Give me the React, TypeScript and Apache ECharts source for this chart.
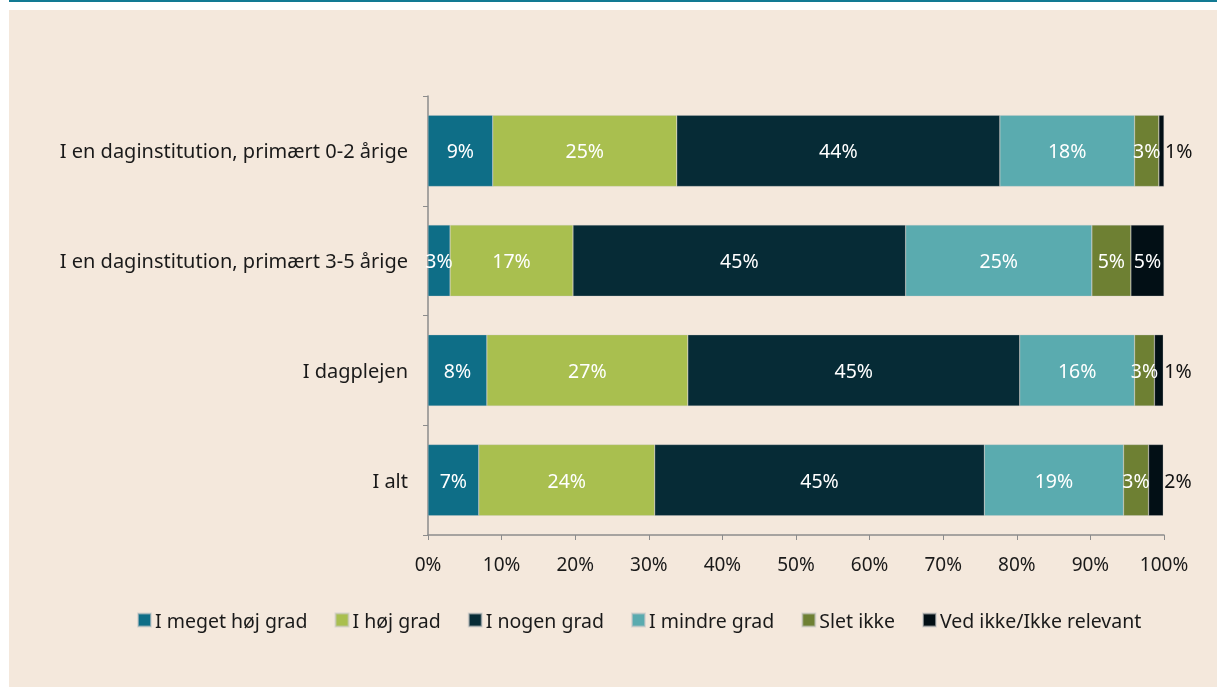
import React, { useEffect, useRef } from "react";
import * as echarts from "echarts";

const categories = [
  "I alt",
  "I dagplejen",
  "I en daginstitution, primært 3-5 årige",
  "I en daginstitution, primært 0-2 årige",
];
const seriesNames = [
  "I meget høj grad",
  "I høj grad",
  "I nogen grad",
  "I mindre grad",
  "Slet ikke",
  "Ved ikke/Ikke relevant",
];
const seriesColors = ["#0E6E87", "#A9BF4F", "#062B36", "#5AABAF", "#6E8033", "#020F15"];
// values per series, in category order (I alt, dagplejen, 3-5, 0-2)
const vMegetHoej = [6.9, 8.0, 3.0, 8.8];
const vHoej = [23.9, 27.3, 16.7, 25.0];
const vNogen = [44.8, 45.1, 45.2, 43.9];
const vMindre = [18.9, 15.6, 25.3, 18.3];
const vSletIkke = [3.4, 2.7, 5.3, 3.3];
const vVedIkke = [2.0, 1.2, 4.5, 0.7];
const seriesValues = [vMegetHoej, vHoej, vNogen, vMindre, vSletIkke, vVedIkke];
// labels outside the bar for the last series (small segments)
const outsideLabel = [true, true, false, true];

const FONT = "'Noto Sans', sans-serif";

export default function App() {
  const ref = useRef<HTMLDivElement>(null);
  useEffect(() => {
    if (!ref.current) return;
    const chart = echarts.init(ref.current, undefined, { renderer: "svg" });
    const series = seriesNames.map((name, si) => ({
      name,
      type: "bar",
      stack: "total",
      barWidth: "65%",
      itemStyle: { color: seriesColors[si], borderColor: "rgba(200,200,200,0.6)", borderWidth: 0.5 },
      data: seriesValues[si].map((v, ci) => {
        const isOut = si === 5 && outsideLabel[ci];
        return {
          value: v,
          label: isOut
            ? { position: "right", color: "#111", distance: 1 }
            : { position: "inside", color: "#fff" },
        };
      }),
      label: {
        show: true,
        fontFamily: FONT,
        fontSize: 19.5,
        formatter: (p: any) => Math.round(p.value) + "%",
      },
    }));
    chart.setOption({
      animation: false,
      backgroundColor: "transparent",
      graphic: [
        { type: "rect", shape: { x: 9, y: 0, width: 1208, height: 2 }, style: { fill: "#127A93" }, z: -10 },
        { type: "rect", shape: { x: 9, y: 10, width: 1208, height: 677 }, style: { fill: "#F4E8DC" }, z: -10 },
      ],
      grid: { left: 428, right: 53, top: 96, bottom: 152 },
      legend: {
        left: 132,
        top: 605,
        itemWidth: 13,
        itemHeight: 13,
        itemGap: 27,
        icon: "rect",
        textStyle: { fontFamily: FONT, fontSize: 19.5, color: "#1a1a1a", padding: [0, 0, 0, -1] },
        data: seriesNames,
      },
      xAxis: {
        type: "value",
        min: 0,
        max: 100,
        interval: 10,
        axisLine: { show: true, lineStyle: { color: "#8c8c8c", width: 1.5 } },
        axisTick: { show: true, length: 5, inside: false, lineStyle: { color: "#8c8c8c" } },
        splitLine: { show: false },
        axisLabel: { fontFamily: FONT, fontSize: 19, color: "#1a1a1a", margin: 19, formatter: "{value}%" },
      },
      yAxis: {
        type: "category",
        data: categories,
        axisLine: { show: true, lineStyle: { color: "#8c8c8c", width: 1.5 } },
        axisTick: { show: true, length: 5, lineStyle: { color: "#8c8c8c" } },
        axisLabel: { fontFamily: FONT, fontSize: 20, color: "#1a1a1a", margin: 20 },
      },
      series,
    });
    return () => chart.dispose();
  }, []);
  return (
    <div
      ref={ref}
      style={{ position: "fixed", left: 0, top: 0, width: 1217, height: 687 }}
    />
  );
}
